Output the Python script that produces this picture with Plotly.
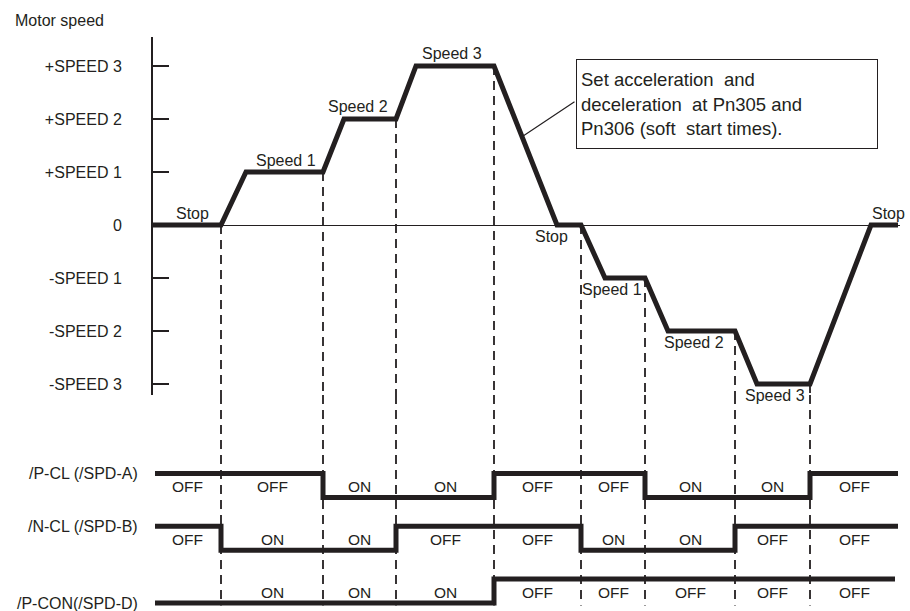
import numpy as np
import plotly.graph_objects as go

# ---------------- data ----------------
speed_levels = [-3, -2, -1, 0, 1, 2, 3]
speed_ticktext = ["-SPEED 3", "-SPEED 2", "-SPEED 1", "0", "+SPEED 1", "+SPEED 2", "+SPEED 3"]

# motor speed profile (time units, speed level)
profile_t = [0, 68, 93, 170, 191, 243, 263, 341, 404, 428, 452, 492, 515, 582, 604, 657, 718, 745]
profile_v = [0, 0, 1, 1, 2, 2, 3, 3, 0, 0, -1, -1, -2, -2, -3, -3, 0, 0]

# switching instants of the input signals
switch_t = [68, 170, 243, 341, 428, 492, 582, 657]
t_end = 745

speed_label_text = ["Stop", "Speed 1", "Speed 2", "Speed 3", "Stop",
                    "Speed 1", "Speed 2", "Speed 3", "Stop"]
speed_label_t = [39, 133, 205, 299, 398, 459, 541, 622, 735]
speed_label_v = [0, 1, 2, 3, 0, -1, -2, -3, 0]
speed_label_side = ["above", "above", "above", "above", "below",
                    "below", "below", "below", "above"]

signal_names = ["/P-CL (/SPD-A)", "/N-CL (/SPD-B)", "/P-CON(/SPD-D)"]
pcl_state = ["OFF", "OFF", "ON", "ON", "OFF", "OFF", "ON", "ON", "OFF"]
ncl_state = ["OFF", "ON", "ON", "OFF", "OFF", "ON", "ON", "OFF", "OFF"]
pcon_state = ["ON", "ON", "ON", "ON", "OFF", "OFF", "OFF", "OFF", "OFF"]
pcon_text = ["", "ON", "ON", "ON", "OFF", "OFF", "OFF", "OFF", "OFF"]

callout_text = "Set acceleration  and<br>deceleration  at Pn305 and<br>Pn306 (soft  start times)."

# ---------------- layout constants ----------------
W, H = 910, 611
ML, MR = 153, 10
INK = "#231f20"
FONT = "Liberation Sans, Arial, Helvetica, sans-serif"

y1_dom = [(H - 395) / H, (H - 37) / H]
y1_rng = [-3.2075, 3.547]
y2_dom = [0, (H - 395) / H]
y2_rng = [-0.333, 8.667]
row_base = [4.4, 2.2, 0.0]
row_amp = 1.0
dash_bottom = -0.1

signal_states = [pcl_state, ncl_state, pcon_state]
signal_texts = [pcl_state, ncl_state, pcon_text]
signal_start = [2, 2, 2]
signal_stop = [745, 745, 742]

fig = go.Figure()

# dashed switching lines
bounds = [0] + switch_t + [t_end]
dx1, dy1, dx2, dy2 = [], [], [], []
for t in switch_t:
    v = float(np.interp(t, profile_t, profile_v))
    dx1 += [t, t, None]
    dy1 += [v, y1_rng[0], None]
    dx2 += [t, t, None]
    dy2 += [y2_rng[1], dash_bottom, None]
dash_line = dict(color=INK, width=1.8, dash="9px,6px")
fig.add_trace(go.Scatter(x=dx1, y=dy1, mode="lines", line=dash_line, yaxis="y", hoverinfo="skip"))
fig.add_trace(go.Scatter(x=dx2, y=dy2, mode="lines", line=dash_line, yaxis="y2", hoverinfo="skip"))

# speed profile
fig.add_trace(go.Scatter(x=profile_t, y=profile_v, mode="lines",
                         line=dict(color=INK, width=5), yaxis="y", hoverinfo="skip"))

# signals
annotations = []
for k, states in enumerate(signal_states):
    lv = [row_base[k] + (row_amp if s == "OFF" else 0) for s in states]
    xs = [signal_start[k]] + switch_t + [signal_stop[k]]
    ys = lv + [lv[-1]]
    fig.add_trace(go.Scatter(x=xs, y=ys, mode="lines", line_shape="hv",
                             line=dict(color=INK, width=5), yaxis="y2", hoverinfo="skip"))
    # signal name at the left, level with the line's initial state
    annotations.append(dict(x=-13 / (W - ML - MR), y=lv[0], xref="paper", yref="y2",
                            xanchor="right", yanchor="middle", text=signal_names[k],
                            showarrow=False, font=dict(size=16, color=INK, family=FONT)))

# speed labels
for txt, t, v, side in zip(speed_label_text, speed_label_t, speed_label_v, speed_label_side):
    annotations.append(dict(x=t, y=v, xref="x", yref="y", text=txt, showarrow=False,
                            yshift=12 if side == "above" else -11,
                            font=dict(size=16, color=INK, family=FONT)))
# ON/OFF labels
for k, texts in enumerate(signal_texts):
    for i, txt in enumerate(texts):
        if not txt:
            continue
        annotations.append(dict(x=(bounds[i] + bounds[i + 1]) / 2, y=row_base[k] + 0.45,
                                xref="x", yref="y2", text=txt, showarrow=False,
                                font=dict(size=15.5, color=INK, family=FONT)))
# axis title
annotations.append(dict(x=(13 - ML) / (W - ML - MR), y=(H - 20) / H, xref="paper", yref="paper",
                        xanchor="left", yanchor="middle", text="Motor speed", showarrow=False,
                        font=dict(size=16, color=INK, family=FONT)))
# callout box
annotations.append(dict(x=576 - ML, y=(225 - 59) / 53, xref="x", yref="y",
                        xanchor="left", yanchor="top", text=callout_text, showarrow=False,
                        align="left", valign="middle", width=292, height=80,
                        bordercolor=INK, borderwidth=1, borderpad=4, bgcolor="white",
                        font=dict(size=18.5, color=INK, family=FONT)))
# callout leader
lead_t = 369
annotations.append(dict(x=lead_t, y=float(np.interp(lead_t, profile_t, profile_v)),
                        xref="x", yref="y", text="", showarrow=True, arrowhead=0,
                        arrowwidth=1.2, arrowcolor=INK, ax=54, ay=-36, standoff=0))

fig.update_layout(
    width=W, height=H,
    margin=dict(l=ML, r=MR, t=0, b=0),
    paper_bgcolor="white", plot_bgcolor="white",
    showlegend=False,
    font=dict(family=FONT, color=INK, size=16),
    xaxis=dict(range=[0, W - ML - MR], visible=False, domain=[0, 1], fixedrange=True),
    yaxis=dict(domain=y1_dom, range=y1_rng, showgrid=False, zeroline=True,
               zerolinecolor=INK, zerolinewidth=1,
               showline=True, linecolor=INK, linewidth=2,
               ticks="inside", ticklen=16, tickwidth=1.6, tickcolor=INK,
               tickvals=speed_levels, ticktext=speed_ticktext, ticklabelstandoff=26,
               tickfont=dict(size=16, color=INK, family=FONT), fixedrange=True),
    yaxis2=dict(domain=y2_dom, range=y2_rng, anchor="x", showgrid=False, zeroline=False,
                showline=False, showticklabels=False, ticks="", fixedrange=True),
    annotations=annotations,
)

fig.write_html("out.html", config={"displayModeBar": False},
               post_script="document.body.style.margin='0px';document.body.style.overflow='hidden';")
